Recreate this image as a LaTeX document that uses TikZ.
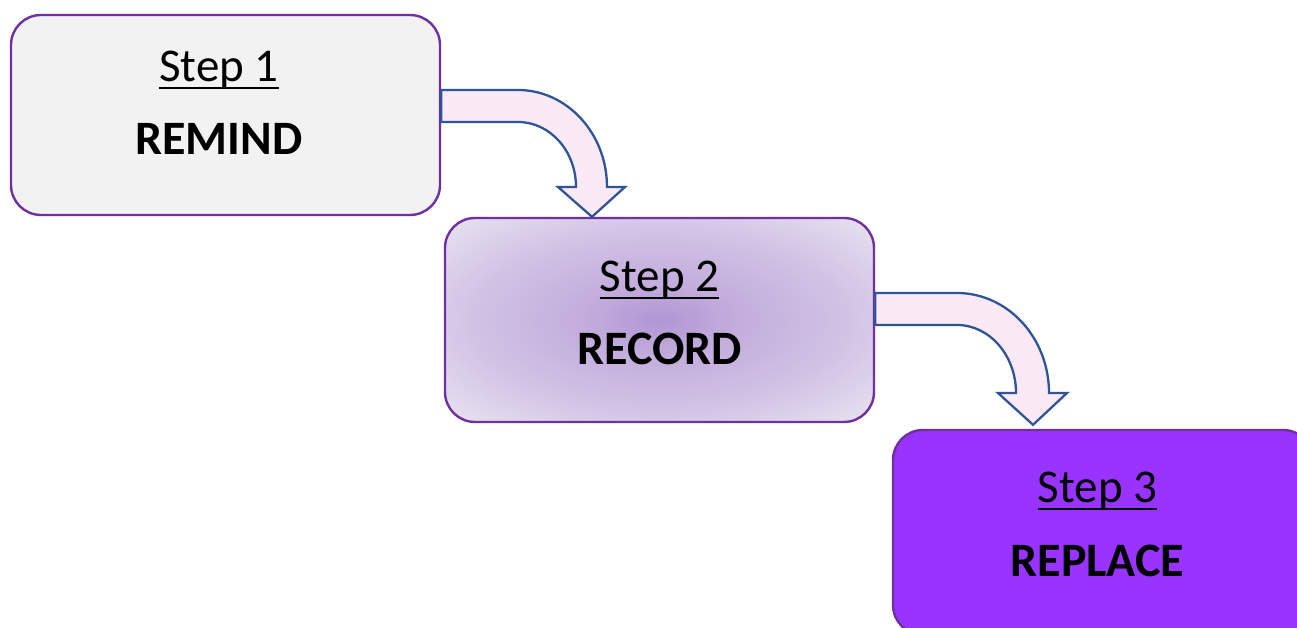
\documentclass[tikz,border=0pt]{standalone}
\usepackage{fontspec}
\setmainfont{Carlito}
\definecolor{shadein}{HTML}{B096D4}
\definecolor{shademida}{HTML}{C3ADDC}
\definecolor{shademidb}{HTML}{D2C3E5}
\definecolor{shadeout}{HTML}{E6E0F0}
\pgfdeclareradialshading{boxglow}{\pgfpoint{0bp}{0bp}}{color(0bp)=(shadein); color(9bp)=(shademida); color(22bp)=(shademidb); color(34bp)=(shadeout); color(50bp)=(shadeout)}
\begin{document}
\begin{tikzpicture}[x=1pt,y=1pt,
  box/.style={draw=boxborder, line width=2.4pt, rounded corners=30pt, inner sep=0pt},
  steptxt/.style={anchor=base, inner sep=0pt, font=\fontsize{47}{50}\selectfont},
  nametxt/.style={anchor=base, inner sep=0pt, font=\fontsize{48}{50}\selectfont\bfseries},
  uline/.style={line width=2.6pt, black},
  barrow/.style={draw=arrowblue, fill=arrowpink, line width=2.3pt, line join=miter}
]
\definecolor{boxborder}{HTML}{7030A0}
\definecolor{arrowblue}{HTML}{2F5597}
\definecolor{arrowpink}{HTML}{FBE9F5}
\definecolor{boxgray}{HTML}{F2F2F2}
\definecolor{boxviolet}{HTML}{9933FF}
\useasboundingbox (0,0) rectangle (1297,628);
\clip (0,0) rectangle (1297,628);

% boxes
\node[box, fill=boxgray, minimum width=429pt, minimum height=200pt] (b1) at (225.5,513) {};
\node[box, shading=boxglow, minimum width=429pt, minimum height=204pt] (b2) at (659.5,308) {};
\node[box, fill=boxviolet, minimum width=420pt, minimum height=205pt] (b3) at (1103,95.5) {};

% texts
\node[steptxt] (s1) at (219,546) {Step 1};
\node[nametxt] (n1) at (219,473) {REMIND};
\node[steptxt] (s2) at (659.5,336) {Step 2};
\node[nametxt] (n2) at (659.5,263) {RECORD};
\node[steptxt] (s3) at (1097.5,125) {Step 3};
\node[nametxt] (n3) at (1097.5,51) {REPLACE};
\foreach \s in {s1,s2,s3}
  \draw[uline] ([yshift=-6pt]\s.base west) -- ([yshift=-6pt]\s.base east);

% bent block arrows
\draw[barrow] ([yshift=25pt]b1.east) -- (518,538) .. controls (567,538) and (607,494.5) .. (607,441)
  -- (625,441) -- ([xshift=-67.5pt]b2.north) -- (558,441) -- (576,441)
  .. controls (576,477) and (550,506) .. (518,506) -- ([yshift=-7pt]b1.east) -- cycle;
\draw[barrow] ([yshift=27pt]b2.east) -- (957,335) .. controls (1007.8,335) and (1049,290.2) .. (1049,235)
  -- (1067,235) -- ([xshift=-70pt,yshift=4pt]b3.north) -- (998,235) -- (1016,235)
  .. controls (1016,272.5) and (989.6,303) .. (957,303) -- ([yshift=-5pt]b2.east) -- cycle;
\end{tikzpicture}
\end{document}
